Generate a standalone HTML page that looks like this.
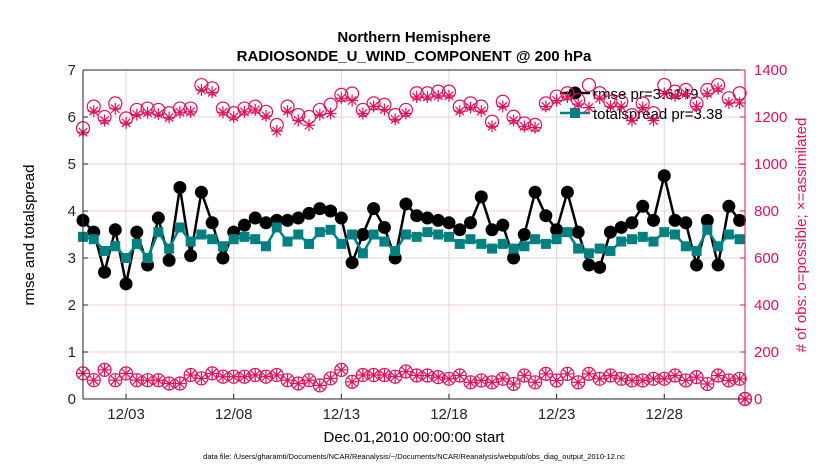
<!DOCTYPE html>
<html><head><meta charset="utf-8"><style>
body{margin:0;background:#fff;}
svg{display:block;font-family:"Liberation Sans",sans-serif;}
</style></head><body>
<svg id="chart" width="830" height="470" viewBox="0 0 830 470">
<text x="414" y="42" text-anchor="middle" font-size="15" font-weight="bold">Northern Hemisphere</text>
<text x="414" y="61" text-anchor="middle" font-size="15" font-weight="bold">RADIOSONDE_U_WIND_COMPONENT @ 200 hPa</text>
<g id="grid"></g>
<g id="legend">
<line x1="560" y1="93" x2="590" y2="93" stroke="#000" stroke-width="2.5"/>
<circle cx="575" cy="93" r="6.5" fill="#000"/>
<text x="593" y="99" font-size="15">rmse pr=3.6149</text>
<line x1="560" y1="113" x2="590" y2="113" stroke="#008080" stroke-width="2.5"/>
<rect x="570" y="108" width="10" height="10" fill="#008080"/>
<text x="593" y="119" font-size="15">totalspread pr=3.38</text>
</g>
<g id="series"></g>
<g id="axes"></g>
<text transform="translate(34,235) rotate(-90)" text-anchor="middle" font-size="15">rmse and totalspread</text>
<text transform="translate(806,235) rotate(-90)" text-anchor="middle" font-size="15" fill="#e0105a"># of obs: o=possible; ×=assimilated</text>
<text x="414" y="442" text-anchor="middle" font-size="15">Dec.01,2010 00:00:00 start</text>
<text x="414" y="459" text-anchor="middle" font-size="7.5">data file: /Users/gharamti/Documents/NCAR/Reanalysis/~/Documents/NCAR/Reanalysis/webpub/obs_diag_output_2010-12.nc</text>
</svg>
<script>
const xTickDays=[2,7,12,17,22,27];
const xTickLabels=["12/03","12/08","12/13","12/18","12/23","12/28"];
const leftTicks=[0,1,2,3,4,5,6,7];
const rightTicks=[0,200,400,600,800,1000,1200,1400];
const rmse=[3.8,3.55,2.7,3.6,2.45,3.55,2.85,3.85,2.95,4.5,3.05,4.4,3.75,3.0,3.55,3.7,3.85,3.75,3.8,3.8,3.85,3.95,4.05,4.0,3.85,2.9,3.5,4.05,3.65,3.0,4.15,
3.9,3.85,3.8,3.75,3.6,3.75,4.3,3.6,3.7,3.0,3.5,4.4,3.9,3.6,4.4,3.55,2.85,2.8,3.55,3.65,3.75,4.1,3.8,4.75,3.8,3.75,2.85,3.8,2.85,4.1,3.8];
const spread=[3.45,3.4,3.15,3.25,3.0,3.3,3.0,3.55,3.2,3.65,3.35,3.5,3.4,3.25,3.4,3.45,3.4,3.25,3.65,3.35,3.5,3.3,3.55,3.6,3.3,3.5,3.1,3.5,3.35,3.15,3.5,
3.45,3.55,3.5,3.45,3.3,3.4,3.3,3.2,3.3,3.2,3.25,3.4,3.3,3.4,3.55,3.2,3.1,3.2,3.15,3.35,3.4,3.45,3.35,3.55,3.5,3.25,3.15,3.6,3.25,3.5,3.4];
const possibleTop=[1152,1244,1200,1258,1194,1230,1236,1230,1216,1236,1236,1336,1322,1236,1216,1236,1244,1222,1166,1244,1208,1200,1230,1252,1294,1300,1230,1258,1252,1208,1230,
1301,1301,1308,1308,1244,1258,1244,1180,1265,1201,1173,1166,1258,1287,1301,1272,1336,1301,1265,1265,1208,1258,1216,1336,1308,1315,1258,1315,1336,1280,1301,0];
const assimTop=[1135,1225,1185,1235,1175,1210,1218,1212,1198,1220,1222,1315,1305,1220,1200,1222,1230,1205,1140,1225,1185,1165,1210,1215,1280,1270,1215,1245,1232,1190,1215,
1285,1285,1290,1290,1225,1240,1225,1160,1245,1185,1160,1155,1245,1270,1285,1255,1240,1280,1245,1245,1185,1240,1185,1300,1290,1300,1245,1300,1320,1260,1260,0];
const possibleBot=[109,80,124,80,109,80,80,80,66,66,102,88,109,95,95,95,102,95,102,80,66,80,58,88,124,73,102,102,102,95,117,
100,100,93,86,100,71,79,71,86,64,100,71,107,79,107,71,107,86,100,86,79,79,86,86,100,79,93,64,100,79,86,0];
const assimBot=possibleBot;
const L=83,R=745,T=70,B=399,DMAX=30.75;
const X=d=>L+(R-L)*d/DMAX;
const YL=v=>B-(B-T)*v/7;
const YR=v=>B-(B-T)*v/1400;
const dayOf=i=>i<62?i*0.5:DMAX;
const NS="http://www.w3.org/2000/svg";
function mk(tag,attrs,parent){const e=document.createElementNS(NS,tag);for(const k in attrs)e.setAttribute(k,attrs[k]);parent.appendChild(e);return e;}
const grid=document.getElementById('grid'),series=document.getElementById('series'),axes=document.getElementById('axes');
xTickDays.forEach(d=>{const l=mk('line',{x1:X(d),x2:X(d),y1:T,y2:B,stroke:'#d8d8d8','stroke-width':1},grid);

});
rightTicks.forEach(v=>{if(v===0||v===1400)return;const l=mk('line',{x1:L,x2:R,y1:YR(v),y2:YR(v),stroke:'#f6cddd','stroke-width':1},grid);

});
// rmse
let p=rmse.map((v,i)=>X(dayOf(i))+','+YL(v)).join(' ');
const rl=mk('polyline',{points:p,fill:'none',stroke:'#000','stroke-width':2.5},series);


rmse.forEach((v,i)=>{const c=mk('circle',{cx:X(dayOf(i)),cy:YL(v),r:6.5,fill:'#000'},series);

});
p=spread.map((v,i)=>X(dayOf(i))+','+YL(v)).join(' ');
const sl=mk('polyline',{points:p,fill:'none',stroke:'#008080','stroke-width':2.5},series);


spread.forEach((v,i)=>{const r=mk('rect',{x:X(dayOf(i))-5,y:YL(v)-5,width:10,height:10,fill:'#008080'},series);

});
const PK='#e0105a';
function star(x,y,name){const g=mk('g',{stroke:PK,'stroke-width':1.2},series);


const s=6;mk('line',{x1:x,y1:y-s,x2:x,y2:y+s},g);mk('line',{x1:x-s,y1:y,x2:x+s,y2:y},g);
mk('line',{x1:x-s*.7,y1:y-s*.7,x2:x+s*.7,y2:y+s*.7},g);mk('line',{x1:x-s*.7,y1:y+s*.7,x2:x+s*.7,y2:y-s*.7},g);}
function circ(x,y,name){const c=mk('circle',{cx:x,cy:y,r:6.5,fill:'none',stroke:PK,'stroke-width':1.2},series);

}
possibleTop.forEach((v,i)=>circ(X(dayOf(i)),YR(v),'possible-obs-top'));
assimTop.forEach((v,i)=>star(X(dayOf(i)),YR(v),'assimilated-obs-top'));
possibleBot.forEach((v,i)=>circ(X(dayOf(i)),YR(v),'possible-obs-bottom'));
assimBot.forEach((v,i)=>star(X(dayOf(i)),YR(v),'assimilated-obs-bottom'));
// axes
mk('line',{x1:L,y1:T,x2:L,y2:B,stroke:'#262626','stroke-width':1},axes);
mk('line',{x1:L,y1:B,x2:R,y2:B,stroke:'#262626','stroke-width':1},axes);
mk('line',{x1:L,y1:T,x2:R,y2:T,stroke:'#262626','stroke-width':1},axes);
mk('line',{x1:R,y1:T,x2:R,y2:B,stroke:PK,'stroke-width':1},axes);
leftTicks.forEach(v=>{mk('line',{x1:L,x2:L+5,y1:YL(v),y2:YL(v),stroke:'#262626'},axes);
const t=mk('text',{x:L-7,y:YL(v)+5,'text-anchor':'end','font-size':15,fill:'#262626'},axes);t.textContent=v;

});
rightTicks.forEach(v=>{mk('line',{x1:R-5,x2:R,y1:YR(v),y2:YR(v),stroke:PK},axes);
const t=mk('text',{x:R+9,y:YR(v)+5,'text-anchor':'start','font-size':15,fill:PK},axes);t.textContent=v;

});
xTickDays.forEach((d,i)=>{mk('line',{x1:X(d),x2:X(d),y1:B,y2:B-5,stroke:'#262626'},axes);
const t=mk('text',{x:X(d),y:B+20,'text-anchor':'middle','font-size':15,fill:'#262626'},axes);t.textContent=xTickLabels[i];

});
</script>
</body></html>
